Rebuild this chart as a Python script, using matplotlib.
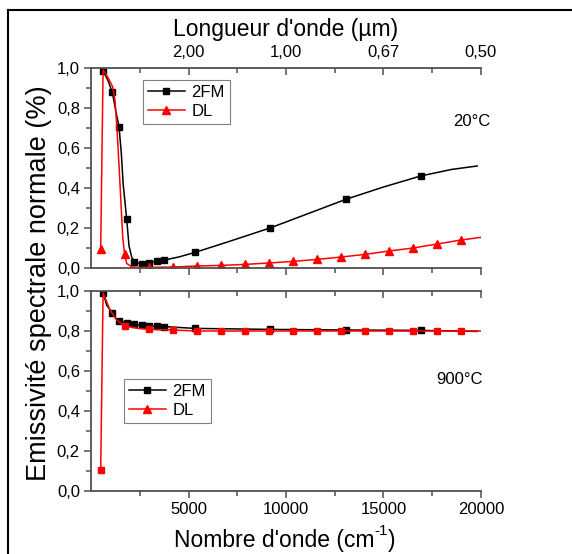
import matplotlib
matplotlib.use("Agg")
import matplotlib.pyplot as plt
from matplotlib.lines import Line2D

plt.rcParams['font.family'] = ['Liberation Sans', 'DejaVu Sans']

# --- data (wavenumber in cm-1, emissivity 0..1) ---
# 20 °C
fm20_x = [632, 900, 1094, 1282, 1436, 1550, 1650, 1829, 1950, 2085, 2205, 2400,
          2598, 2991, 3368, 3760, 4500, 5333, 7000, 9180, 11000, 13060, 15000,
          16905, 18500, 19800]
fm20_y = [0.987, 0.93, 0.878, 0.78, 0.707, 0.58, 0.42, 0.245, 0.11, 0.055, 0.032,
          0.024, 0.02, 0.027, 0.033, 0.04, 0.055, 0.078, 0.13, 0.20, 0.267, 0.343,
          0.405, 0.46, 0.493, 0.51]
fm20_marks = [632, 1094, 1436, 1829, 2205, 2598, 2991, 3368, 3760, 5333, 9180,
              13060, 16905]

dl20_x = [497, 620, 888, 1110, 1230, 1350, 1487, 1624, 1720, 1829, 2085, 2500,
          2960, 4200, 5420, 6660, 7890, 9130, 10360, 11600, 12830, 14060, 15290,
          16520, 17750, 18980, 19980]
dl20_y = [0.095, 0.99, 0.95, 0.906, 0.84, 0.67, 0.42, 0.157, 0.07, 0.023, 0.006,
          0.003, 0.003, 0.005, 0.01, 0.013, 0.018, 0.025, 0.033, 0.043, 0.055,
          0.068, 0.085, 0.10, 0.12, 0.14, 0.153]
dl20_marks = [497, 1720, 2960, 4200, 5420, 6660, 7890, 9130, 10360, 11600, 12830,
              14060, 15290, 16520, 17750, 18980]

# 900 °C
fm900_x = [632, 800, 1094, 1250, 1436, 1829, 2205, 2598, 2991, 3368, 3760, 5333,
           9180, 13060, 16905, 19800]
fm900_y = [0.99, 0.93, 0.89, 0.865, 0.852, 0.838, 0.833, 0.828, 0.825, 0.823,
           0.822, 0.813, 0.808, 0.805, 0.803, 0.798]
fm900_marks = [632, 1094, 1436, 1829, 2205, 2598, 2991, 3368, 3760, 5333, 9180,
               13060, 16905]

dl900_x = [497, 620, 975, 1316, 1720, 2300, 2960, 4200, 5420, 6660, 7890, 9130,
           10360, 11600, 12830, 14060, 15290, 16520, 17750, 18980, 19980]
dl900_y = [0.105, 0.99, 0.905, 0.855, 0.825, 0.815, 0.808, 0.805, 0.80, 0.80, 0.80,
           0.80, 0.80, 0.80, 0.80, 0.80, 0.80, 0.80, 0.80, 0.80, 0.80]
dl900_marks = [497, 1720, 2960, 4200, 5420, 6660, 7890, 9130, 10360, 11600, 12830,
               14060, 15290, 16520, 17750, 18980]

wn_major = [5000, 10000, 15000, 20000]
wn_minor = [2500, 7500, 12500, 17500]
y_major = [0.0, 0.2, 0.4, 0.6, 0.8, 1.0]
y_minor = [0.1, 0.3, 0.5, 0.7, 0.9]


def idx(xs, marks):
    return [i for i, v in enumerate(xs) if v in marks]


def comma(v, n):
    return f"{v:.{n}f}".replace('.', ',')


spine_c = '#505050'

fig = plt.figure(figsize=(5.72, 5.54), dpi=100)
ax1 = fig.add_axes([91/572, 1-268/554, 390/572, 200/554])
ax2 = fig.add_axes([91/572, 1-491/554, 390/572, 200/554])

ax1.plot(fm20_x, fm20_y, color='black', lw=1.1, marker='s', ms=4.5,
         markevery=idx(fm20_x, fm20_marks))
ax1.plot(dl20_x, dl20_y, color='red', lw=1.1, marker='^', ms=5.5,
         markevery=idx(dl20_x, dl20_marks))
ax2.plot(fm900_x, fm900_y, color='black', lw=1.1, marker='s', ms=4.5,
         markevery=idx(fm900_x, fm900_marks))
ax2.plot(dl900_x, dl900_y, color='red', lw=1.1, marker='s', ms=5,
         markevery=idx(dl900_x, dl900_marks))

for ax in (ax1, ax2):
    ax.set_xlim(0, 20000)
    ax.set_ylim(0, 1.0)
    ax.set_xticks(wn_major)
    ax.set_xticks(wn_minor, minor=True)
    ax.set_yticks(y_major)
    ax.set_yticks(y_minor, minor=True)
    ax.set_yticklabels([comma(v, 1) for v in y_major])
    ax.spines['right'].set_visible(False)
    ax.spines['top'].set_visible(False)
    for s in ax.spines.values():
        s.set_color(spine_c)
        s.set_linewidth(1.3)
    ax.tick_params(which='both', direction='out', color=spine_c, width=1.1,
                   labelsize=12, pad=3, right=False)
    ax.tick_params(which='major', length=5)
    ax.tick_params(which='minor', length=3.5)

    # top side, ticks pointing inward
    tw = ax.twiny()
    tw.set_xlim(0, 20000)
    tw.set_xticks(wn_major)
    tw.set_xticks(wn_minor, minor=True)
    for k in ('left', 'right', 'bottom'):
        tw.spines[k].set_visible(False)
    tw.spines['top'].set_color(spine_c)
    tw.spines['top'].set_linewidth(1.3)
    tw.tick_params(which='both', direction='in', color=spine_c, width=1.1,
                   labelsize=12, pad=6)
    tw.tick_params(which='major', length=5)
    tw.tick_params(which='minor', length=3.5)
    if ax is ax1:
        tw.set_xticklabels([comma(1e4 / w, 2) for w in wn_major])
        tw.set_xlabel("Longueur d'onde (µm)", fontsize=16.5, labelpad=6)
    else:
        tw.set_xticklabels([])

ax1.set_xticklabels([])

# bottom axis title, plain hyphen in the superscript
t_main = fig.text(174/572, 1-541/554, "Nombre d'onde (cm", fontsize=16.5,
                  ha='left', va='center')
sup = ax2.annotate("-1", xy=(1, 0.62), xycoords=t_main, fontsize=11,
                   ha='left', va='bottom', annotation_clip=False)
ax2.annotate(")", xy=(1, 0), xycoords=(sup, t_main), fontsize=16.5,
             ha='left', va='bottom', annotation_clip=False)

ax1.text(1.023, 0.735, "20°C", transform=ax1.transAxes, ha='right', va='center',
         fontsize=12)
ax2.text(1.005, 0.555, "900°C", transform=ax2.transAxes, ha='right', va='center',
         fontsize=12)

handles = [Line2D([], [], color='black', lw=1.1, marker='s', ms=4.5),
           Line2D([], [], color='red', lw=1.1, marker='^', ms=5.5)]
leg_kw = dict(loc='upper left', fontsize=12, fancybox=False, borderaxespad=0,
              borderpad=0.3, labelspacing=0.25, handlelength=2.2,
              handletextpad=0.4, framealpha=1)
for ax, anchor in ((ax1, (0.133, 0.94)), (ax2, (0.085, 0.56))):
    leg = ax.legend(handles, ['2FM', 'DL'], bbox_to_anchor=anchor, **leg_kw)
    leg.get_frame().set_edgecolor('#808080')
    leg.get_frame().set_linewidth(0.8)

fig.text(39/572, 1-283/554, "Emissivité spectrale normale (%)", rotation=90,
         ha='center', va='center', fontsize=19.5)

# outer frame: only its left and top edges fall inside the picture
fig.add_artist(Line2D([8/572, 8/572], [0, 1-10/554], transform=fig.transFigure,
                      color='black', lw=1.5))
fig.add_artist(Line2D([8/572, 1], [1-10/554, 1-10/554], transform=fig.transFigure,
                      color='black', lw=1.5))

fig.savefig("out.png", dpi=100)
